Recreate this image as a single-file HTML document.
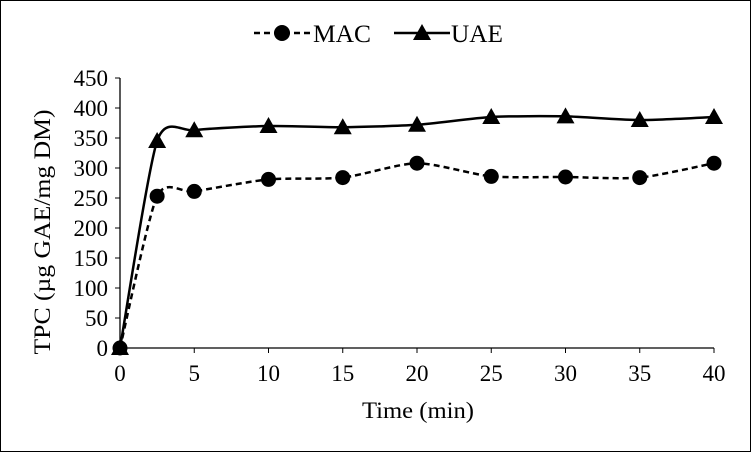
<!DOCTYPE html>
<html><head><meta charset="utf-8"><style>
html,body{margin:0;padding:0;background:#fff}
svg{display:block;font-family:"Liberation Serif",serif}
</style></head><body>
<svg id="chart" width="751" height="452" viewBox="0 0 751 452">
<rect x="0.5" y="0.5" width="750" height="451" fill="#fff" stroke="#000" stroke-width="1"/>
<g id="legend">
 <g>
  <line x1="254" y1="33" x2="312" y2="33" stroke="#000" stroke-width="2.5" stroke-dasharray="6,4"/>
  <circle cx="282" cy="33" r="8" fill="#000"/>
  <text x="313" y="42" font-size="25" textLength="58" lengthAdjust="spacingAndGlyphs">MAC</text>
 </g>
 <g>
  <line x1="394" y1="33" x2="450" y2="33" stroke="#000" stroke-width="2.5"/>
  <polygon points="422,24 431,40 413,40" fill="#000"/>
  <text x="451" y="42" font-size="25" textLength="52" lengthAdjust="spacingAndGlyphs">UAE</text>
 </g>
</g>
<g id="axes"></g>
<g id="series"></g>
<text x="0" y="0" font-size="23" text-anchor="middle" textLength="245" lengthAdjust="spacingAndGlyphs" transform="translate(50,232) rotate(-90)">TPC  (µg GAE/mg DM)</text>
<text x="418" y="418" font-size="23" text-anchor="middle" textLength="112" lengthAdjust="spacingAndGlyphs">Time (min)</text>
</svg>
<script>
const xValues=[0,2.5,5,10,15,20,25,30,35,40];
const macValues=[0,253,261,281,284,308,286,285,284,308];
const uaeValues=[0,345,363,370,368,372,385,386,380,385];
const xTicks=[0,5,10,15,20,25,30,35,40];
const yTicks=[0,50,100,150,200,250,300,350,400,450];
const NS="http://www.w3.org/2000/svg";
const X0=120,X1=714,Y0=348,Y1=78;
const xs=v=>X0+(v/40)*(X1-X0);
const ys=v=>Y0-(v/450)*(Y0-Y1);
function mk(tag,attrs,parent){const e=document.createElementNS(NS,tag);for(const k in attrs)e.setAttribute(k,attrs[k]);parent.appendChild(e);return e;}
const axes=document.getElementById('axes'),series=document.getElementById('series');
let a=mk('line',{x1:X0,y1:Y1,x2:X0,y2:Y0,stroke:'#000','stroke-width':1.3},axes);


a=mk('line',{x1:X0,y1:Y0,x2:X1,y2:Y0,stroke:'#000','stroke-width':1.3},axes);


yTicks.forEach(t=>{
 const y=ys(t);
 mk('line',{x1:X0-5,y1:y,x2:X0,y2:y,stroke:'#000','stroke-width':1},axes);
 const tx=mk('text',{x:X0-12,y:y+8,'font-size':23,'text-anchor':'end'},axes);
 tx.textContent=t;
 
 
});
xTicks.forEach(t=>{
 const x=xs(t);
 mk('line',{x1:x,y1:Y0,x2:x,y2:Y0+5,stroke:'#000','stroke-width':1},axes);
 const tx=mk('text',{x:x,y:Y0+33,'font-size':23,'text-anchor':'middle'},axes);
 tx.textContent=t;
 
 
});
function smooth(pts){
 let d='M'+pts[0][0]+','+pts[0][1];
 for(let i=0;i<pts.length-1;i++){
  const p0=pts[Math.max(i-1,0)],p1=pts[i],p2=pts[i+1],p3=pts[Math.min(i+2,pts.length-1)];
  const t=0.35/3;
  const c1=[p1[0]+(p2[0]-p0[0])*t,p1[1]+(p2[1]-p0[1])*t];
  const c2=[p2[0]-(p3[0]-p1[0])*t,p2[1]-(p3[1]-p1[1])*t];
  d+=' C'+c1+' '+c2+' '+p2;
 }
 return d;
}
function draw(vals,name,dash,marker){
 const pts=xValues.map((x,i)=>[xs(x),ys(vals[i])]);
 const p=mk('path',{d:smooth(pts),fill:'none',stroke:'#000','stroke-width':2.5},series);
 if(dash)p.setAttribute('stroke-dasharray','6,4');
 
 
 pts.forEach(q=>{
  let m;
  if(marker==='circle')m=mk('circle',{cx:q[0],cy:q[1],r:7.5,fill:'#000'},series);
  else m=mk('polygon',{points:`${q[0]},${q[1]-9} ${q[0]+9},${q[1]+7} ${q[0]-9},${q[1]+7}`,fill:'#000'},series);
  
  
 });
}
draw(uaeValues,'uae',false,'triangle');
draw(macValues,'mac',true,'circle');
</script>
</body></html>
